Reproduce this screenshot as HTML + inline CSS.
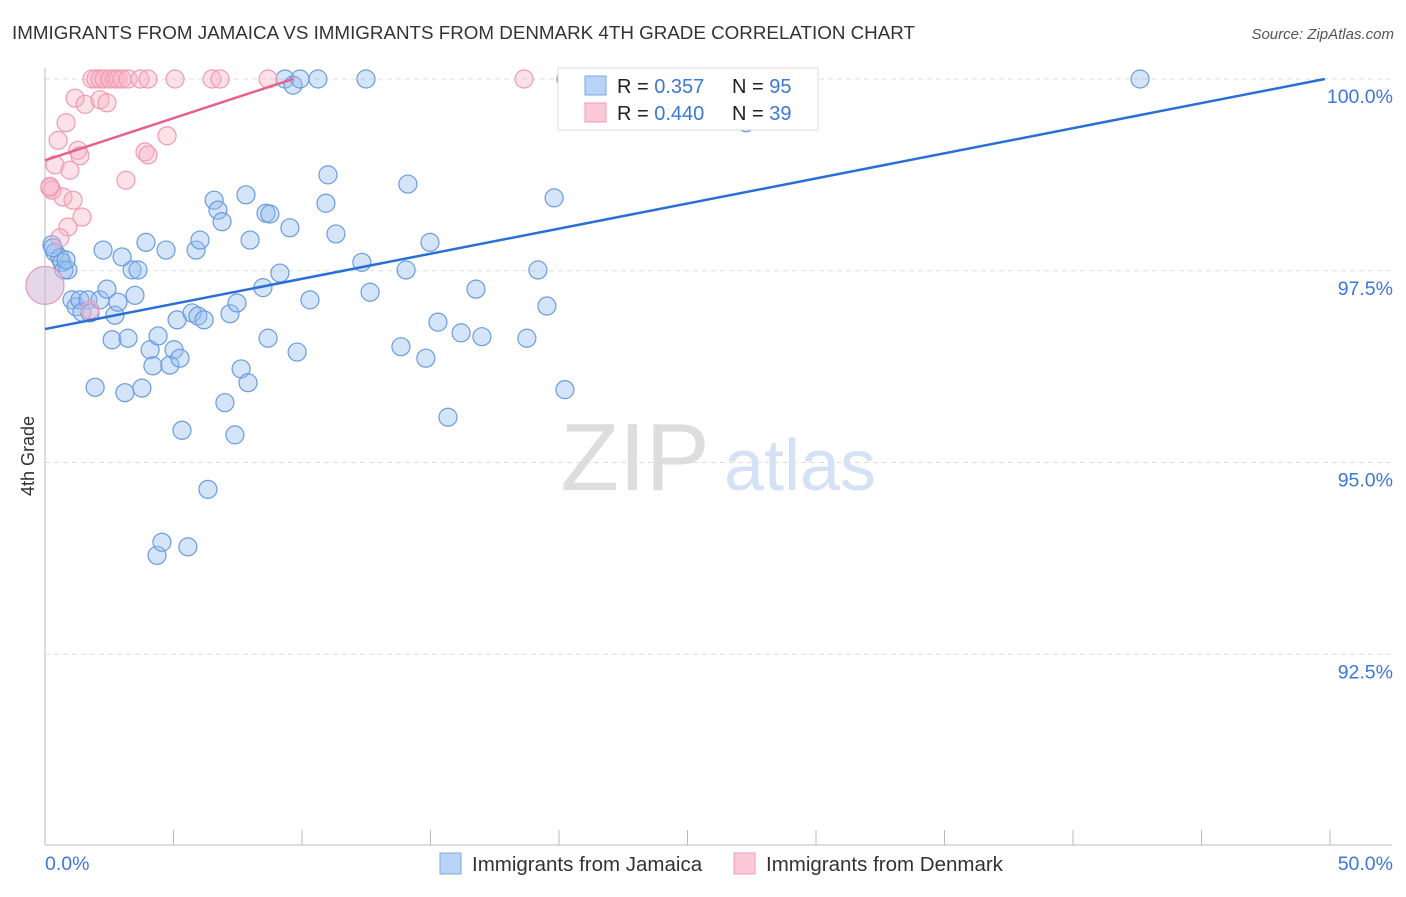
<!DOCTYPE html>
<html><head><meta charset="utf-8"><style>
body{margin:0;background:#fff;font-family:"Liberation Sans",sans-serif}
svg text{font-family:"Liberation Sans",sans-serif}
</style></head><body>
<svg width="1406" height="892">
<text x="12" y="39" font-size="18.8" fill="#333">IMMIGRANTS FROM JAMAICA VS IMMIGRANTS FROM DENMARK 4TH GRADE CORRELATION CHART</text>
<text x="1394" y="39" font-size="15" fill="#555" text-anchor="end" font-style="italic">Source: ZipAtlas.com</text>
<g id="grid"></g>
<text x="635" y="490" font-size="96" fill="#ddd" text-anchor="middle" font-family="Liberation Serif">ZIP</text>
<text x="800" y="490" font-size="72" fill="#d5e2f5" text-anchor="middle">atlas</text>
<g id="pts"></g>
<g id="lines"></g>
<text x="34" y="456" font-size="18" fill="#333" text-anchor="middle" transform="rotate(-90 34 456)">4th Grade</text>
<text x="45" y="870" font-size="19.5" fill="#3b78d8">0.0%</text>
<text x="1393" y="870" font-size="19.5" fill="#3b78d8" text-anchor="end">50.0%</text>
<g>
<rect x="558" y="68" width="260" height="62" fill="#fff" stroke="#ddd"/>
<rect x="585" y="76" width="21" height="19" fill="#b9d3f7" stroke="#7aa7e8"/>
<rect x="585" y="103" width="21" height="19" fill="#fbc9d8" stroke="#f19ab5"/>
<text x="617" y="93" font-size="20" fill="#222">R = <tspan fill="#3b78d8"> 0.357</tspan></text>
<text x="732" y="93" font-size="20" fill="#222">N = <tspan fill="#3b78d8">95</tspan></text>
<text x="617" y="120" font-size="20" fill="#222">R = <tspan fill="#3b78d8">0.440</tspan></text>
<text x="732" y="120" font-size="20" fill="#222">N = <tspan fill="#3b78d8">39</tspan></text>
</g>
<g>
<rect x="440" y="853" width="21" height="21" fill="#b9d3f7" stroke="#7aa7e8"/>
<text x="472" y="871" font-size="20.5" fill="#333">Immigrants from Jamaica</text>
<rect x="734" y="853" width="21" height="21" fill="#fbc9d8" stroke="#f19ab5"/>
<text x="766" y="871" font-size="20.5" fill="#333">Immigrants from Denmark</text>
</g>
</svg>
<script>
const yTicks=[100,97.5,95,92.5];
const yTickLabels=["100.0%","97.5%","95.0%","92.5%"];
const blueX=[0.27,0.39,0.58,0.66,0.74,0.89,1.05,1.21,1.36,1.44,1.67,1.75,1.95,2.14,2.26,2.41,2.61,2.72,2.84,3.0,3.11,3.23,3.39,3.5,3.62,3.77,3.93,4.09,4.2,4.4,4.36,4.55,4.71,4.86,5.02,5.14,5.25,5.33,5.56,5.72,5.88,5.95,6.03,6.19,6.34,6.58,6.73,6.89,7.0,7.2,7.39,7.47,7.63,7.9,7.82,7.98,8.48,8.6,8.68,8.75,9.14,9.53,9.81,10.31,10.93,11.01,11.32,12.33,12.65,13.85,14.05,14.12,14.82,14.98,15.29,15.68,16.19,16.77,17.0,18.75,19.18,19.53,19.81,20.23,27.28,9.34,9.65,9.92,10.62,12.49,20.27,25.72,42.61,0.82,0.31];
const blueY=[97.84,97.74,97.67,97.61,97.51,97.51,97.12,97.03,97.12,96.96,97.12,96.95,95.98,97.12,97.77,97.26,96.6,96.92,97.09,97.68,95.91,96.62,97.51,97.18,97.51,95.97,97.87,96.47,96.26,96.65,93.79,93.96,97.77,96.27,96.47,96.86,96.36,95.42,93.9,96.95,97.77,96.91,97.9,96.86,94.65,98.42,98.29,98.14,95.78,96.94,95.36,97.08,96.22,96.04,98.49,97.9,97.28,98.25,96.62,98.24,97.47,98.06,96.44,97.12,98.38,98.75,97.98,97.61,97.22,96.51,97.51,98.63,96.36,97.87,96.83,95.59,96.69,97.26,96.64,96.62,97.51,97.04,98.45,95.95,99.43,100,99.92,100,100,100,100,100,100,97.64,97.8];
const pinkX=[1.83,1.98,2.14,2.3,2.53,2.72,2.84,3.0,3.23,3.7,4.01,5.06,6.5,6.81,8.68,18.64,1.17,1.56,2.14,2.41,0.82,0.51,1.28,1.36,0.39,0.97,3.89,4.01,4.75,3.15,0.19,0.7,1.09,1.44,0.89,0.58,1.75,0.27,0.19];
const pinkY=[100,100,100,100,100,100,100,100,100,100,100,100,100,100,100,100,99.75,99.67,99.73,99.69,99.43,99.2,99.07,99.0,98.88,98.81,99.05,99.01,99.26,98.68,98.58,98.46,98.42,98.2,98.07,97.93,96.99,98.55,98.6];
const bigX=[0.0,0.0];const bigY=[97.31,97.31];
const blueTrend=[[0,96.74],[49.8,100]];
const pinkTrend=[[0,98.94],[9.65,100]];
const X=v=>45+v*25.7, Y=v=>79+(100-v)*76.7;
const NS="http://www.w3.org/2000/svg";
function mk(t,a,p){const e=document.createElementNS(NS,t);for(const k in a)e.setAttribute(k,a[k]);p.appendChild(e);return e;}
const g=document.getElementById('grid');
yTicks.forEach((t,i)=>{
 const l=mk('line',{x1:45,x2:1392,y1:Y(t),y2:Y(t),stroke:'#ddd','stroke-dasharray':'5,4'},g);
 
 
 const tx=mk('text',{x:1393,y:Y(t)+24,'font-size':19.5,fill:'#3b78d8','text-anchor':'end'},g);
 tx.textContent=yTickLabels[i];
 
 
});
const ax=mk('line',{x1:45,x2:45,y1:68,y2:845,stroke:'#bbb'},g);


const bx=mk('line',{x1:45,x2:1392,y1:845,y2:845,stroke:'#bbb'},g);


for(let i=0;i<=10;i++){const t=mk('line',{x1:X(i*5),x2:X(i*5),y1:830,y2:845,stroke:'#bbb'},g);
 
 }
const P=document.getElementById('pts');
blueX.forEach((x,i)=>{const c=mk('circle',{cx:X(x),cy:Y(blueY[i]),r:9,fill:'rgba(150,190,240,0.4)',stroke:'#6a9be0','stroke-width':1.2},P);
 
 });
pinkX.forEach((x,i)=>{const c=mk('circle',{cx:X(x),cy:Y(pinkY[i]),r:9,fill:'rgba(248,180,200,0.4)',stroke:'#f09ab4','stroke-width':1.2},P);
 
 });
bigX.forEach((x,i)=>{const c=mk('circle',{cx:X(x),cy:Y(bigY[i]),r:19,fill:i?'rgba(248,180,200,0.35)':'rgba(150,190,240,0.35)',stroke:i?'#f09ab4':'#6a9be0'},P);
 
 });
const L=document.getElementById('lines');
const bl=mk('line',{x1:X(blueTrend[0][0]),y1:Y(blueTrend[0][1]),x2:X(blueTrend[1][0]),y2:Y(blueTrend[1][1]),stroke:'#2a6fd6','stroke-width':2.5},L);


const pl=mk('line',{x1:X(pinkTrend[0][0]),y1:Y(pinkTrend[0][1]),x2:X(pinkTrend[1][0]),y2:Y(pinkTrend[1][1]),stroke:'#e8618c','stroke-width':2.5},L);


</script>
</body></html>
